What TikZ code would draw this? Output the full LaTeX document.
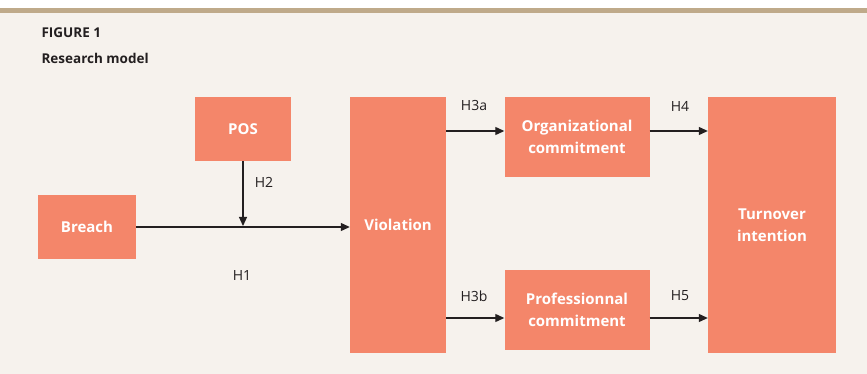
\documentclass[tikz,border=0pt]{standalone}
\usepackage{fontspec}
\setmainfont{Open Sans}
\usetikzlibrary{arrows.meta}
\definecolor{boxfill}{HTML}{F4866A}
\definecolor{paper}{HTML}{F6F2ED}
\definecolor{rule}{HTML}{BFAA8A}
\definecolor{ink}{HTML}{231F20}
\begin{document}
\begin{tikzpicture}
  [x=1pt,y=-1pt,
   every node/.style={font=\fontsize{14}{21}\selectfont},
   block/.style={fill=boxfill,text=white,align=center,inner sep=0pt,font=\fontsize{15}{22}\selectfont\bfseries},
   hyp/.style={text=ink},
   arrow/.style={draw=ink,line width=1.2pt,-{Triangle[length=9pt,width=8pt]}}]
  \useasboundingbox (0,0) rectangle (867,374);
  \fill[paper] (0,13) rectangle (867,374);
  \fill[rule] (0,8) rectangle (867,13);
  \node[anchor=base west,text=ink,font=\fontsize{13.5}{15}\selectfont\bfseries] (fig) at (38,38) {FIGURE 1};
  \node[anchor=base west,text=ink,font=\fontsize{13.5}{15}\selectfont\bfseries] (title) at (38,64) {Research model};
  % boxes
  \node[block,minimum width=96pt,minimum height=64pt] (pos) at (243,129) {POS};
  \node[block,minimum width=98pt,minimum height=64pt] (breach) at (87,227) {Breach};
  \node[block,minimum width=96pt,minimum height=255pt] (viol) at (398,225) {Violation};
  \node[block,minimum width=145pt,minimum height=80pt] (org) at (577,137) {Organizational\\commitment};
  \node[block,minimum width=145pt,minimum height=80pt] (prof) at (577,310) {Professionnal\\commitment};
  \node[block,minimum width=128pt,minimum height=255pt] (turn) at (772,225) {Turnover\\intention};
  \coordinate (join) at (pos.south |- breach.east);
  % arrows
  \draw[arrow] (breach.east) -- (viol.west |- breach.east);
  \draw[arrow,shorten >=1pt] (pos.south) -- (join);
  \draw[arrow] ([yshift=6pt]org.west -| viol.east) -- ([yshift=6pt]org.west);
  \draw[arrow] ([yshift=6pt]org.east) -- ([yshift=6pt]org.east -| turn.west);
  \draw[arrow] ([yshift=-8pt]prof.west -| viol.east) -- ([yshift=-8pt]prof.west);
  \draw[arrow] ([yshift=-8pt]prof.east) -- ([yshift=-8pt]prof.east -| turn.west);
  % labels
  \node[hyp] (h1) at (242,276) {H1};
  \node[hyp] (h2) at (264,182) {H2};
  \node[hyp] (h3a) at (474,106) {H3a};
  \node[hyp] (h4) at (680,106) {H4};
  \node[hyp] (h3b) at (474,296) {H3b};
  \node[hyp] (h5) at (680,296) {H5};
\end{tikzpicture}
\end{document}
